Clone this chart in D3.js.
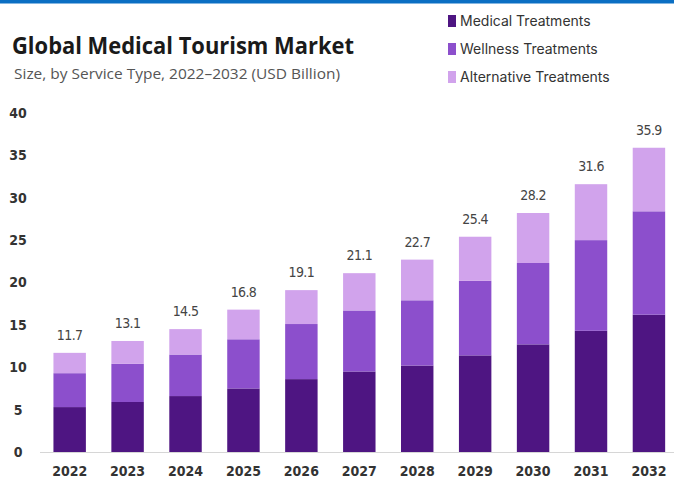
<!DOCTYPE html>
<html>
<head>
<meta charset="utf-8">
<script src="https://cdn.jsdelivr.net/npm/d3@7"></script>
<style>
  html, body { margin: 0; padding: 0; background: #fff; }
  svg { display: block; }
</style>
</head>
<body>
<svg id="chart" width="674" height="488"></svg>
<script>
// Market size by service type, USD billion
const years = ["2022","2023","2024","2025","2026","2027","2028","2029","2030","2031","2032"];
const medical     = [5.3, 5.9, 6.6, 7.5, 8.6, 9.5, 10.2, 11.4, 12.7, 14.3, 16.2];
const wellness    = [4.0, 4.5, 4.9, 5.8, 6.5, 7.2, 7.7, 8.8, 9.6, 10.7, 12.2];
const totals      = [11.7, 13.1, 14.5, 16.8, 19.1, 21.1, 22.7, 25.4, 28.2, 31.6, 35.9];
const alternative = totals.map((t, i) => +(t - medical[i] - wellness[i]).toFixed(1));
const seriesNames = ["Medical Treatments", "Wellness Treatments", "Alternative Treatments"];
const yTicks = [0, 5, 10, 15, 20, 25, 30, 35, 40];

const colors = ["#4e1582", "#8c4fcc", "#d1a3ec"];
const condensed = "'DejaVu Sans Condensed', 'Liberation Sans Narrow', 'DejaVu Sans', sans-serif";

const svg = d3.select("#chart");

// top accent strip
svg.append("rect").attr("x", 0).attr("y", 0).attr("width", 674).attr("height", 3.5).attr("fill", "#0b6fc3");

// title + subtitle
svg.append("text")
  .attr("x", 12).attr("y", 54)
  .attr("font-family", "'Open Sans', sans-serif")
  .attr("font-weight", 700)
  .attr("font-size", 24)
  .attr("fill", "#1a1a1a")
  .attr("textLength", 342).attr("lengthAdjust", "spacingAndGlyphs")
  .text("Global Medical Tourism Market");

svg.append("text")
  .attr("x", 14).attr("y", 79)
  .attr("font-family", "'Open Sans', sans-serif")
  .attr("font-size", 14.5)
  .attr("fill", "#555")
  .attr("textLength", 326).attr("lengthAdjust", "spacingAndGlyphs")
  .text("Size, by Service Type, 2022\u20132032 (USD Billion)");

// legend
const legend = svg.append("g");
seriesNames.forEach((name, i) => {
  const y = 21 + i * 28;
  legend.append("rect")
    .attr("x", 448).attr("y", y - 6).attr("width", 8).attr("height", 12)
    .attr("fill", colors[i]);
  legend.append("text")
    .attr("x", 460).attr("y", y + 5)
    .attr("font-family", "Inter, 'Noto Sans', sans-serif")
    .attr("font-size", 14)
    .attr("fill", "#333")
    .text(name);
});

// scales
const x = d3.scaleBand().domain(years).range([40.7, 677.9]).paddingInner(0.44).paddingOuter(0.22);
const y = d3.scaleLinear().domain([0, 40]).range([452, 113]);

// stacked data
const rows = years.map((yr, i) => ({
  year: yr,
  medical: medical[i],
  wellness: wellness[i],
  alternative: alternative[i],
  total: totals[i]
}));
const stack = d3.stack().keys(["medical", "wellness", "alternative"]);
const layers = stack(rows);

// baseline
svg.append("line")
  .attr("x1", 40).attr("x2", 674)
  .attr("y1", y(0) + 0.5).attr("y2", y(0) + 0.5)
  .attr("stroke", "#d6d6d6").attr("stroke-width", 1.2);

// y axis labels (no domain line / ticks)
const yAxis = d3.axisLeft(y).tickValues(yTicks).tickSize(0).tickPadding(0);
const yg = svg.append("g").attr("transform", "translate(18,0)").call(yAxis);
yg.select(".domain").remove();
yg.selectAll("text")
  .attr("text-anchor", "middle")
  .attr("font-family", condensed)
  .attr("font-weight", 700)
  .attr("font-size", 14)
  .attr("fill", "#333");

// bars
svg.append("g").selectAll("g")
  .data(layers)
  .join("g")
  .attr("fill", (d, i) => colors[i])
  .selectAll("rect")
  .data(d => d)
  .join("rect")
  .attr("x", d => x(d.data.year))
  .attr("y", d => y(d[1]))
  .attr("width", x.bandwidth())
  .attr("height", d => y(d[0]) - y(d[1]));

// total labels
svg.append("g").selectAll("text")
  .data(rows)
  .join("text")
  .attr("x", d => x(d.year) + x.bandwidth() / 2)
  .attr("y", d => y(d.total) - 13)
  .attr("text-anchor", "middle")
  .attr("font-family", condensed)
  .attr("font-size", 14)
  .attr("letter-spacing", -0.6)
  .attr("fill", "#444")
  .text(d => d.total.toFixed(1));

// x axis labels
const xAxis = d3.axisBottom(x).tickSize(0).tickPadding(0);
const xg = svg.append("g").attr("transform", "translate(0,472)").call(xAxis);
xg.select(".domain").remove();
xg.selectAll("text")
  .attr("dy", "0.32em")
  .attr("font-family", condensed)
  .attr("font-weight", 700)
  .attr("font-size", 14)
  .attr("fill", "#333");
</script>
</body>
</html>
